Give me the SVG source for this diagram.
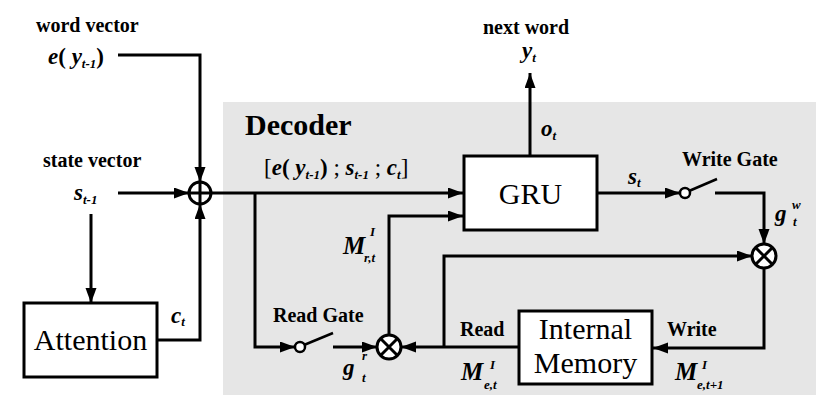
<svg xmlns="http://www.w3.org/2000/svg" width="839" height="417" viewBox="0 0 839 417">
<defs>
<marker id="ah" markerUnits="userSpaceOnUse" markerWidth="16" markerHeight="12" refX="15" refY="5.5" orient="auto">
<path d="M0,0 L15,5.5 L0,11 z" fill="#000"/>
</marker>
<style>
.ln{fill:none;stroke:#000;stroke-width:3}
.ar{fill:none;stroke:#000;stroke-width:3;marker-end:url(#ah)}
.box{fill:#fff;stroke:#000;stroke-width:3}
.op{fill:#fff;stroke:#000;stroke-width:3}
.sw{fill:#fff;stroke:#000;stroke-width:2.5}
text{font-family:"Liberation Serif",serif;fill:#000}
.lb{font-weight:bold;font-size:20px}
.bt{font-size:30px}
.m{font-weight:bold;font-style:italic;font-size:23px}
.s{font-weight:bold;font-style:italic;font-size:13px}
.up{font-style:normal}
.rg{font-style:normal;font-weight:normal}
</style>
</defs>
<rect id="decoder-panel" x="223" y="102" width="593" height="293" fill="#e6e6e6"/>
<text class="lb" x="245" y="135" style="font-size:30px">Decoder</text>

<g id="connectors">
<polyline class="ar" points="118,55 200,55 200,182"/>
<line class="ar" x1="118" y1="193" x2="189" y2="193"/>
<line class="ar" x1="91" y1="214" x2="91" y2="303"/>
<polyline class="ar" points="157,340 200,340 200,204"/>
<line class="ar" x1="211" y1="193" x2="463" y2="193"/>
<line class="ar" x1="530" y1="156" x2="530" y2="73"/>
<polyline class="ar" points="255,193 255,347 295,347"/>
<line class="ar" x1="333" y1="347" x2="377" y2="347"/>
<polyline class="ar" points="389,335 389,216 463,216"/>
<line class="ar" x1="597" y1="193" x2="680" y2="193"/>
<polyline class="ar" points="715,193 764,193 764,244"/>
<polyline class="ar" points="764,268 764,348 653,348"/>
<line class="ar" x1="519" y1="347" x2="401" y2="347"/>
<polyline class="ar" points="444,347 444,256 752,256"/>
</g>

<g id="attention">
<rect class="box" x="24" y="303" width="133" height="74"/>
<text class="bt" x="90.5" y="350" text-anchor="middle">Attention</text>
</g>
<g id="gru">
<rect class="box" x="464" y="156" width="133" height="74"/>
<text class="bt" x="530.5" y="204" text-anchor="middle">GRU</text>
</g>
<g id="internal-memory">
<rect class="box" x="519" y="311" width="133" height="73"/>
<text class="bt" x="585.5" y="339" text-anchor="middle">Internal</text>
<text class="bt" x="585.5" y="373" text-anchor="middle">Memory</text>
</g>
<g id="concat">
<circle class="op" cx="200" cy="193" r="11"/>
<path class="ln" d="M189,193 H211 M200,182 V204"/>
</g>
<g id="read-multiply">
<circle class="op" cx="389" cy="347" r="12"/>
<path class="ln" d="M380.5,338.5 L397.5,355.5 M397.5,338.5 L380.5,355.5"/>
</g>
<g id="write-multiply">
<circle class="op" cx="764" cy="256" r="12"/>
<path class="ln" d="M755.5,247.5 L772.5,264.5 M772.5,247.5 L755.5,264.5"/>
</g>
<g id="read-gate">
<line class="ln" x1="304" y1="345" x2="333" y2="333" style="stroke-width:2.5"/>
<circle class="sw" cx="300" cy="347" r="5"/>
<text class="lb" x="273" y="322">Read Gate</text>
</g>
<g id="write-gate">
<line class="ln" x1="689" y1="191" x2="717" y2="179" style="stroke-width:2.5"/>
<circle class="sw" cx="685" cy="193" r="5"/>
<text class="lb" x="682" y="166">Write Gate</text>
</g>

<g id="labels">
<text class="lb" x="36" y="32">word vector</text>
<text class="m" x="48" y="64">e<tspan class="up">(</tspan> y<tspan class="s" dy="4">t-1</tspan><tspan class="up" dy="-4">)</tspan></text>
<text class="lb" x="43" y="167">state vector</text>
<text class="m" x="74" y="200">s<tspan class="s" dy="4">t-1</tspan></text>
<text class="m" x="171" y="323">c<tspan class="s" dy="3">t</tspan></text>
<text class="m" x="264" y="175"><tspan class="rg">[</tspan>e<tspan class="up">(</tspan> y<tspan class="s" dy="4">t-1</tspan><tspan class="up" dy="-4">)</tspan><tspan class="rg"> ; </tspan>s<tspan class="s" dy="4">t-1</tspan><tspan class="rg" dy="-4"> ; </tspan>c<tspan class="s" dy="4">t</tspan><tspan class="rg" dy="-4">]</tspan></text>
<text class="lb" x="483" y="34">next word</text>
<text class="m" x="522" y="58">y<tspan class="s" dy="4">t</tspan></text>
<text class="m" x="541" y="136">o<tspan class="s" dy="4">t</tspan></text>
<text class="m" x="628" y="184">s<tspan class="s" dy="3">t</tspan></text>
<text class="m" x="775" y="221">g</text>
<text class="s" x="792" y="209">w</text>
<text class="s" x="793" y="226">t</text>
<text class="m" x="343" y="254" style="font-size:25px">M</text>
<text class="s" x="370" y="236">I</text>
<text class="s" x="364" y="262">r,t</text>
<text class="m" x="343" y="375">g</text>
<text class="s" x="362" y="360">r</text>
<text class="s" x="362" y="382">t</text>
<text class="lb" x="460" y="336">Read</text>
<text class="lb" x="667" y="336">Write</text>
<text class="m" x="461" y="380" style="font-size:25px">M</text>
<text class="s" x="490" y="369">I</text>
<text class="s" x="484" y="389">e,t</text>
<text class="m" x="675" y="380" style="font-size:25px">M</text>
<text class="s" x="702" y="369">I</text>
<text class="s" x="697" y="389">e,t+1</text>
</g>
</svg>
